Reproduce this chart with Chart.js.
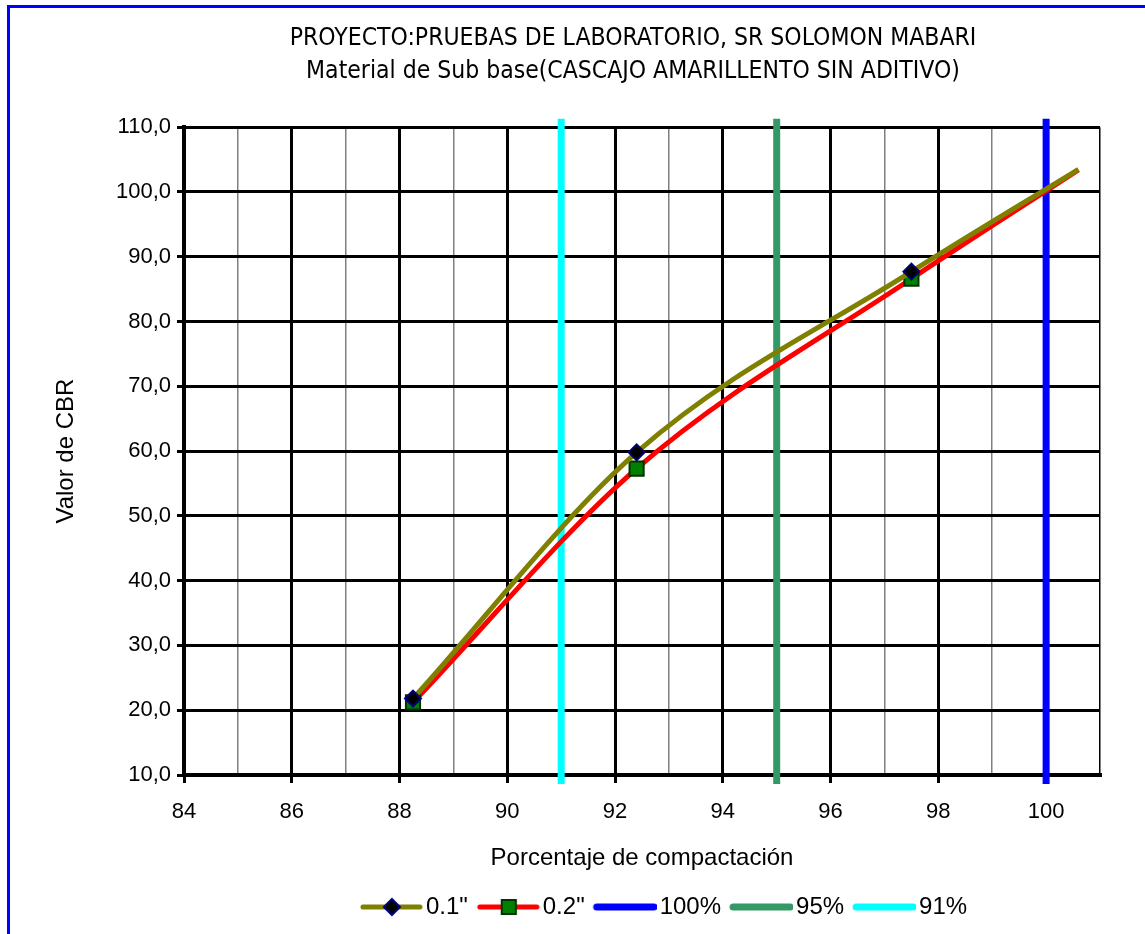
<!DOCTYPE html>
<html>
<head>
<meta charset="utf-8">
<script src="https://cdn.jsdelivr.net/npm/chart.js@4.4.1/dist/chart.umd.min.js"></script>
<style>
html, body { margin: 0; padding: 0; background: #fff; }
</style>
</head>
<body>
<canvas id="chart" width="1145" height="934"></canvas>
<script>
// puntos de ensayo (el ultimo es el extremo de la curva, sin marcador)
const compactacion = [88.25, 92.4, 97.5, 100.6];
const cbr01 = [21.8, 59.8, 87.7, 103.5];
const cbr02 = [21.2, 57.3, 86.6, 103.4];
const nEnsayos = 3;

// lineas verticales de referencia
const refX = [100, 95, 91];
const refLabels = ['100%', '95%', '91%'];
const refY = [8.6, 111.3];

const xTicks = [84, 86, 88, 90, 92, 94, 96, 98, 100];
const yTicks = [10, 20, 30, 40, 50, 60, 70, 80, 90, 100, 110];

const titulo = ['PROYECTO:PRUEBAS DE LABORATORIO, SR SOLOMON MABARI',
                'Material de Sub base(CASCAJO AMARILLENTO SIN ADITIVO)'];

const fuente = "'Liberation Sans', Arial, sans-serif";
const fuenteTitulo = "'Liberation Sans Narrow', 'DejaVu Sans Condensed', 'Liberation Sans', sans-serif";
const refColors = ['#0000ff', '#339966', '#00ffff'];

function puntos(ys) {
    return compactacion.map((x, i) => ({x: x, y: ys[i]}));
}

// muestra de leyenda: linea + marcador
function muestra(color, ancho, punto) {
    const c = document.createElement('canvas');
    c.width = 71; c.height = 22;
    const g = c.getContext('2d');
    g.strokeStyle = color; g.lineWidth = ancho; g.lineCap = 'round';
    g.beginPath(); g.moveTo(11, 11); g.lineTo(68, 11); g.stroke();
    if (punto) {
        g.fillStyle = punto.fill; g.strokeStyle = punto.border; g.lineWidth = 2;
        Chart.helpers.drawPoint(g, {pointStyle: punto.style, radius: punto.r, rotation: 0, borderWidth: 2}, 40, 11);
    }
    return c;
}

const muestras = [
    muestra('#808000', 5, {style: 'rectRot', r: 8, fill: '#000000', border: '#000080'}),
    muestra('#ff0000', 5, {style: 'rect', r: 10, fill: '#008000', border: '#003300'}),
    muestra(refColors[0], 7),
    muestra(refColors[1], 7),
    muestra(refColors[2], 7)
];

const marco = {
    id: 'marco',
    beforeDraw(chart) {
        const c = chart.ctx;
        c.save();
        c.fillStyle = '#fff';
        c.fillRect(0, 0, chart.width, chart.height);
        c.strokeStyle = '#0000ff';
        c.lineWidth = 3;
        c.beginPath();
        c.moveTo(8.5, chart.height + 5);
        c.lineTo(8.5, 6.5);
        c.lineTo(chart.width + 5, 6.5);
        c.stroke();
        c.restore();
    },
    // pequeño ajuste horizontal del titulo y la leyenda
    afterLayout(chart) {
        if (chart.legend) { chart.legend.left += 22; chart.legend.right += 22; }
        if (chart.titleBlock) { chart.titleBlock.left -= 18; }
    }
};

const datasets = [
    {
        label: '0.1"',
        data: puntos(cbr01),
        borderColor: '#808000',
        borderWidth: 5,
        cubicInterpolationMode: 'monotone',
        pointStyle: 'rectRot',
        pointRadius: (ctx) => ctx.dataIndex < nEnsayos ? 8 : 0,
        pointBackgroundColor: '#000000',
        pointBorderColor: '#000080',
        pointBorderWidth: 2
    },
    {
        label: '0.2"',
        data: puntos(cbr02),
        borderColor: '#ff0000',
        borderWidth: 5,
        cubicInterpolationMode: 'monotone',
        pointStyle: 'rect',
        pointRadius: (ctx) => ctx.dataIndex < nEnsayos ? 10 : 0,
        pointBackgroundColor: '#008000',
        pointBorderColor: '#003300',
        pointBorderWidth: 2
    }
];
refX.forEach((x, i) => {
    datasets.push({
        label: refLabels[i],
        data: refY.map(y => ({x: x, y: y})),
        borderColor: refColors[i],
        borderWidth: 7,
        pointRadius: 0,
        clip: false
    });
});

new Chart(document.getElementById('chart'), {
    type: 'line',
    data: {datasets: datasets},
    plugins: [marco],
    options: {
        responsive: false,
        animation: false,
        devicePixelRatio: 1,
        layout: {padding: {left: 40, right: 45, top: 0, bottom: 5}},
        plugins: {
            tooltip: {enabled: false},
            title: {
                display: true,
                text: titulo,
                fullSize: false,
                color: '#000',
                font: {family: fuenteTitulo, size: 24.5, weight: 'normal', lineHeight: 1.35},
                padding: {top: 22, bottom: 39}
            },
            legend: {
                position: 'bottom',
                fullSize: false,
                labels: {
                    usePointStyle: true,
                    pointStyleWidth: 53,
                    padding: 10,
                    color: '#000',
                    font: {family: fuente, size: 24},
                    generateLabels(chart) {
                        const items = Chart.defaults.plugins.legend.labels.generateLabels(chart);
                        items.forEach((it, i) => { it.pointStyle = muestras[i]; });
                        return items;
                    }
                }
            }
        },
        scales: {
            x: {
                type: 'linear',
                min: 84,
                max: 101,
                afterBuildTicks(scale) {
                    const t = [];
                    for (let v = 84; v <= 101; v++) t.push({value: v});
                    scale.ticks = t;
                },
                afterFit(scale) { scale.height = 110; },
                ticks: {
                    autoSkip: false,
                    maxRotation: 0,
                    padding: 16,
                    color: '#000',
                    font: {family: fuente, size: 22},
                    callback: (v) => xTicks.includes(v) ? String(v) : ''
                },
                grid: {
                    color: (ctx) => (ctx.tick && xTicks.includes(ctx.tick.value)) || (ctx.tick && ctx.tick.value === 101) ? '#000' : '#808080',
                    lineWidth: (ctx) => ctx.tick && xTicks.includes(ctx.tick.value) ? 3 : 1.5,
                    tickColor: (ctx) => ctx.tick && xTicks.includes(ctx.tick.value) ? '#000' : 'rgba(0,0,0,0)',
                    tickWidth: 3,
                    tickLength: 8
                },
                border: {color: '#000', width: 4},
                title: {
                    display: true,
                    text: 'Porcentaje de compactación',
                    color: '#000',
                    font: {family: fuente, size: 24},
                    padding: {top: 0, bottom: 12}
                }
            },
            y: {
                min: 10,
                max: 110,
                afterBuildTicks(scale) {
                    scale.ticks = yTicks.map(v => ({value: v}));
                },
                afterFit(scale) { scale.width = 144; },
                ticks: {
                    padding: 6,
                    color: '#000',
                    font: {family: fuente, size: 22},
                    callback: (v) => v.toFixed(1).replace('.', ',')
                },
                grid: {
                    color: '#000',
                    lineWidth: 3,
                    tickWidth: 3,
                    tickLength: 7
                },
                border: {color: '#000', width: 4},
                title: {
                    display: true,
                    text: 'Valor de CBR',
                    color: '#000',
                    font: {family: fuente, size: 24},
                    padding: {top: 12, bottom: 0}
                }
            }
        }
    }
});
</script>
</body>
</html>
